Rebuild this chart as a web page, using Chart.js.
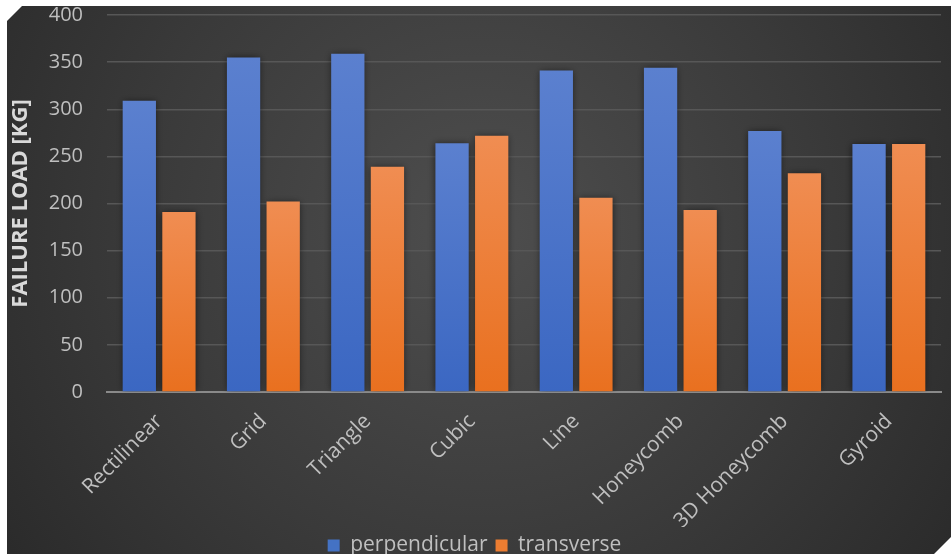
<!DOCTYPE html>
<html>
<head>
<meta charset="utf-8">
<script src="https://cdn.jsdelivr.net/npm/chart.js@4.4.1/dist/chart.umd.min.js"></script>
<style>
  html, body { margin: 0; padding: 0; background: #ffffff; }
  #wrap { width: 951px; height: 554px; }
</style>
</head>
<body>
<div id="wrap"><canvas id="loadChart" width="951" height="554"></canvas></div>
<script>
const patterns = ['Rectilinear', 'Grid', 'Triangle', 'Cubic', 'Line', 'Honeycomb', '3D Honeycomb', 'Gyroid'];
const perpendicular = [309, 355, 359, 264, 341, 344, 277, 263];
const transverse = [191, 202, 239, 272, 206, 193, 232, 263];
const yTicks = [0, 50, 100, 150, 200, 250, 300, 350, 400];

const FONT = "'Open Sans', 'Liberation Sans', sans-serif";
const TEXT = '#bfbfbf';

// dark slide-style panel with clipped corners behind the plot
const panelBackground = {
    id: 'panelBackground',
    beforeDraw(chart) {
        const c = chart.ctx;
        const w = chart.width, h = chart.height;
        c.save();
        c.fillStyle = '#ffffff';
        c.fillRect(0, 0, w, h);
        const g = c.createRadialGradient(480, 230, 20, 480, 230, 660);
        g.addColorStop(0, '#4d4d4d');
        g.addColorStop(0.5, '#3a3a3a');
        g.addColorStop(1, '#252525');
        c.fillStyle = g;
        c.beginPath();
        c.moveTo(22, 6);
        c.lineTo(w, 6);
        c.lineTo(w, h - 17);
        c.lineTo(w - 17, h);
        c.lineTo(7, h);
        c.lineTo(7, 21);
        c.closePath();
        c.fill();
        c.restore();
    }
};

// soft dark halo around the bars
const barShadow = {
    id: 'barShadow',
    beforeDatasetsDraw(chart) {
        const c = chart.ctx;
        c.save();
        c.shadowColor = 'rgba(0,0,0,0.55)';
        c.shadowBlur = 7;
    },
    afterDatasetsDraw(chart) {
        chart.ctx.restore();
    }
};

function barFill(top, bottom) {
    return (context) => {
        const chart = context.chart;
        if (!chart.chartArea || context.type !== 'data') return bottom;
        const y = chart.scales.y;
        const g = chart.ctx.createLinearGradient(0, y.getPixelForValue(context.raw), 0, y.getPixelForValue(0));
        g.addColorStop(0, top);
        g.addColorStop(1, bottom);
        return g;
    };
}

new Chart(document.getElementById('loadChart'), {
    type: 'bar',
    data: {
        labels: patterns,
        datasets: [{
            label: 'perpendicular',
            data: perpendicular,
            backgroundColor: barFill('#5b80cf', '#3b67c2'),
            borderWidth: 0,
            categoryPercentage: 0.76,
            barPercentage: 0.84
        }, {
            label: 'transverse',
            data: transverse,
            backgroundColor: barFill('#f08d52', '#e9701f'),
            borderWidth: 0,
            categoryPercentage: 0.76,
            barPercentage: 0.84
        }]
    },
    options: {
        responsive: false,
        animation: false,
        devicePixelRatio: 1,
        layout: { padding: { left: 8, right: 10, top: 15, bottom: -12 } },
        plugins: {
            tooltip: { enabled: false },
            legend: {
                position: 'bottom',
                labels: {
                    color: TEXT,
                    font: { family: FONT, size: 21 },
                    boxWidth: 12,
                    boxHeight: 12,
                    padding: 8,
                    generateLabels(chart) {
                        const cols = ['#4472c4', '#ed7d31'];
                        return chart.data.datasets.map((d, i) => ({
                            text: d.label,
                            fillStyle: cols[i],
                            strokeStyle: cols[i],
                            lineWidth: 0,
                            fontColor: TEXT,
                            datasetIndex: i
                        }));
                    }
                }
            }
        },
        scales: {
            x: {
                grid: { display: false },
                border: { display: true, color: '#8a8a8a', width: 2 },
                ticks: {
                    color: TEXT,
                    font: { family: FONT, size: 21 },
                    minRotation: 45,
                    maxRotation: 45,
                    padding: 9
                },
                afterFit(scale) { scale.height = 135; }
            },
            y: {
                min: 0,
                max: 400,
                afterBuildTicks(scale) { scale.ticks = yTicks.map(v => ({ value: v })); },
                grid: { color: '#575757', lineWidth: 1.5, drawTicks: true, tickLength: 24, tickColor: 'rgba(0,0,0,0)' },
                border: { display: false },
                ticks: {
                    color: TEXT,
                    font: { family: FONT, size: 20 },
                    padding: 0
                },
                title: {
                    display: true,
                    text: 'FAILURE LOAD [KG]',
                    color: '#d9d9d9',
                    font: { family: FONT, size: 22, weight: 'bold' },
                    padding: 0
                },
                afterFit(scale) { scale.width = 99; }
            }
        }
    },
    plugins: [panelBackground, barShadow]
});
</script>
</body>
</html>
